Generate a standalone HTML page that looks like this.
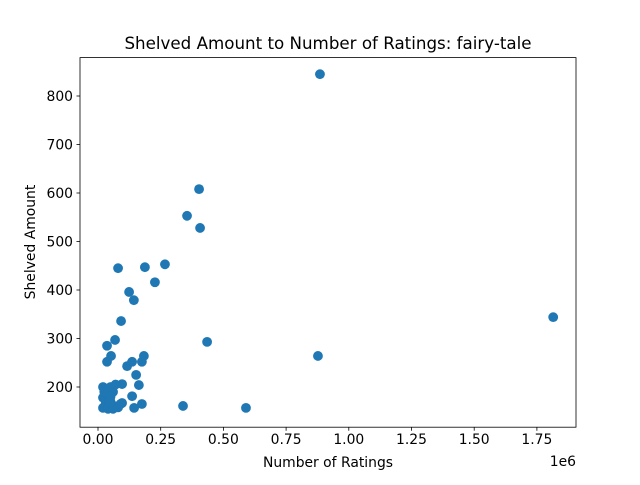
<!DOCTYPE html>
<html><head><meta charset="utf-8"><style>body{margin:0;background:#fff}svg text{font-family:"DejaVu Sans","Liberation Sans",sans-serif;fill:#000}</style></head>
<body>
<svg width="640" height="480" id="c"></svg>
<script>
const xs=[0.08,0.187,0.267,0.227,0.124,0.143,0.092,0.068,0.036,0.052,0.036,0.116,0.136,0.183,0.175,0.152,0.163,0.096,0.136,0.175,0.144,0.339,0.590,0.435,0.096,0.355,0.403,0.407,0.885,0.877,1.815,
0.02,0.03,0.02,0.04,0.05,0.06,0.03,0.05,0.07,0.02,0.04,0.06,0.08,0.03,0.05,0.07,0.09,0.025,0.045];
const ys=[445,447,453,416,396,379,336,297,285,264,252,243,252,264,252,225,204,206,181,165,157,161,157,293,167,553,608,528,845,264,344,
200,195,178,185,200,190,165,170,160,157,155,155,158,175,180,205,165,190,168];
const xTicks=[0,0.25,0.5,0.75,1.0,1.25,1.5,1.75];
const xLabels=["0.00","0.25","0.50","0.75","1.00","1.25","1.50","1.75"];
const yTicks=[200,300,400,500,600,700,800];
const NS="http://www.w3.org/2000/svg";
const svg=document.getElementById('c');
const L=80,R=576,T=57.6,B=427.2;
const X=v=>98+v*250.8;
const Y=v=>387-(v-200)*0.485;
function mk(t,a){const e=document.createElementNS(NS,t);for(const k in a)e.setAttribute(k,a[k]);svg.appendChild(e);return e;}
xs.forEach((x,i)=>{const c=mk('circle',{cx:X(x),cy:Y(ys[i]),r:4.9,fill:'#1f77b4'});

});
const f=mk('rect',{x:L,y:T,width:R-L,height:B-T,fill:'none',stroke:'#000','stroke-width':0.8});


xTicks.forEach((v,i)=>{mk('line',{x1:X(v),x2:X(v),y1:B,y2:B+3.5,stroke:'#000','stroke-width':0.8});
const t=mk('text',{x:X(v),y:B+17,'text-anchor':'middle','font-size':'13.9'});t.textContent=xLabels[i];

});
yTicks.forEach(v=>{mk('line',{x1:L,x2:L-3.5,y1:Y(v),y2:Y(v),stroke:'#000','stroke-width':0.8});
const t=mk('text',{x:L-7,y:Y(v)+5,'text-anchor':'end','font-size':'13.9'});t.textContent=v;

});
</script>
<svg style="position:absolute;left:0;top:0" width="640" height="480">
<text x="328" y="49" text-anchor="middle" font-size="16.7">Shelved Amount to Number of Ratings: fairy-tale</text>
<text x="328" y="467" text-anchor="middle" font-size="13.9">Number of Ratings</text>
<text x="35" y="242" text-anchor="middle" font-size="13.9" transform="rotate(-90 35 242)">Shelved Amount</text>
<text x="576" y="466" text-anchor="end" font-size="13.9">1e6</text>
</svg>
</body></html>
